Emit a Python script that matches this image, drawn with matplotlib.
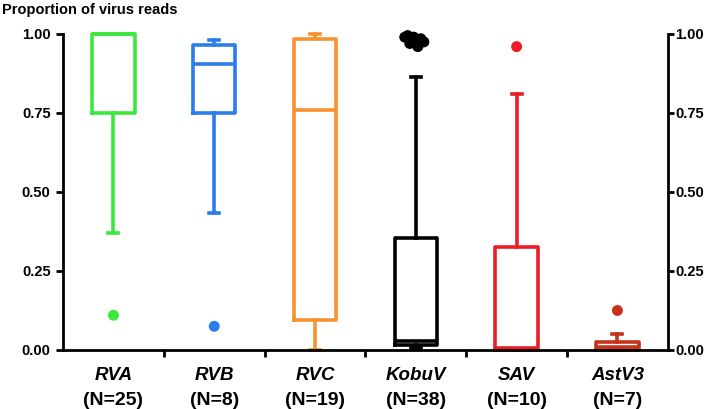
import numpy as np
import matplotlib
matplotlib.use("Agg")
import matplotlib.pyplot as plt

# virus groups and sample counts
viruses = ['RVA', 'RVB', 'RVC', 'KobuV', 'SAV', 'AstV3']
counts = [25, 8, 19, 38, 10, 7]
colors = ['#3ce83c', '#2b7de9', '#f7922f', '#000000', '#ee1b24', '#c4331c']

# box summary
whislo = [0.37, 0.435, 0.0, 0.005, 0.0, 0.0]
q1 = [0.75, 0.75, 0.095, 0.015, 0.0, 0.0]
med = [1.0, 0.905, 0.76, 0.03, 0.005, 0.01]
q3 = [1.0, 0.965, 0.985, 0.355, 0.325, 0.025]
whishi = [1.0, 0.98, 1.0, 0.865, 0.81, 0.05]

# outliers (group index, value, small horizontal spread)
flier_grp = [0, 1, 3, 3, 3, 3, 3, 3, 3, 3, 4, 5]
flier_val = [0.11, 0.075, 0.99, 0.99, 0.985, 0.975, 0.97, 0.96, 0.995, 0.98, 0.96, 0.125]
flier_dx = [0, 0, -0.11, -0.02, 0.05, 0.08, -0.06, 0.02, -0.08, 0.0, 0, 0]

plt.rcParams['font.family'] = ['Liberation Sans', 'DejaVu Sans']
plt.rcParams['font.weight'] = 'bold'

fig = plt.figure(figsize=(7.09, 4.09), dpi=100)
ax = fig.add_axes([0.0889, 0.1443, 0.853, 0.7726])

pos = np.arange(1, len(viruses) + 1)
for i in range(len(viruses)):
    st = [dict(whislo=whislo[i], q1=q1[i], med=med[i], q3=q3[i], whishi=whishi[i], fliers=[])]
    c = colors[i]
    ax.bxp(st, positions=[pos[i]], widths=0.42, capwidths=0.1, showfliers=False,
           boxprops=dict(color=c, linewidth=2.6),
           medianprops=dict(color=c, linewidth=2.6, solid_capstyle='butt'),
           whiskerprops=dict(color=c, linewidth=2.6),
           capprops=dict(color=c, linewidth=2.6),
           manage_ticks=False)
    for artist in ax.lines:
        artist.set_clip_on(False)

fx = [pos[g] + d for g, d in zip(flier_grp, flier_dx)]
fc = [colors[g] for g in flier_grp]
ax.scatter(fx, flier_val, s=62, c=fc, zorder=5, clip_on=False, linewidths=0)

ax.set_xlim(0.5, len(viruses) + 0.5)
ax.set_ylim(0, 1.0)
ax.set_yticks([0, 0.25, 0.5, 0.75, 1.0])
ax.set_yticklabels(['0.00', '0.25', '0.50', '0.75', '1.00'])
ax.set_xticks(pos[:-1] + 0.5)
ax.set_xticklabels([])
ax.tick_params(axis='both', direction='out', length=5, width=2, labelsize=10.5)
ax.tick_params(axis='y', pad=4)

ax2 = ax.twinx()
ax2.set_ylim(0, 1.0)
ax2.set_yticks([0, 0.25, 0.5, 0.75, 1.0])
ax2.set_yticklabels(['0.00', '0.25', '0.50', '0.75', '1.00'])
ax2.tick_params(axis='y', direction='out', length=4, width=2, labelsize=10.5, pad=1.5)

for a in (ax, ax2):
    a.spines['top'].set_visible(False)
    for s in ('left', 'right', 'bottom'):
        a.spines[s].set_linewidth(2)
ax.spines['right'].set_visible(False)
ax2.spines['left'].set_visible(False)
ax2.spines['bottom'].set_visible(False)

tr = ax.get_xaxis_transform()
for p, name, n in zip(pos, viruses, counts):
    ax.text(p, -0.08, name, transform=tr, ha='center', va='center',
            fontsize=13.5, fontweight='bold', style='italic')
    ax.text(p, -0.16, '(N=%d)' % n, transform=tr, ha='center', va='center',
            fontsize=14, fontweight='bold')

fig.text(0.003, 0.975, 'Proportion of virus reads', ha='left', va='center',
         fontsize=10.5, fontweight='bold')

fig.savefig('out.png', dpi=100)
